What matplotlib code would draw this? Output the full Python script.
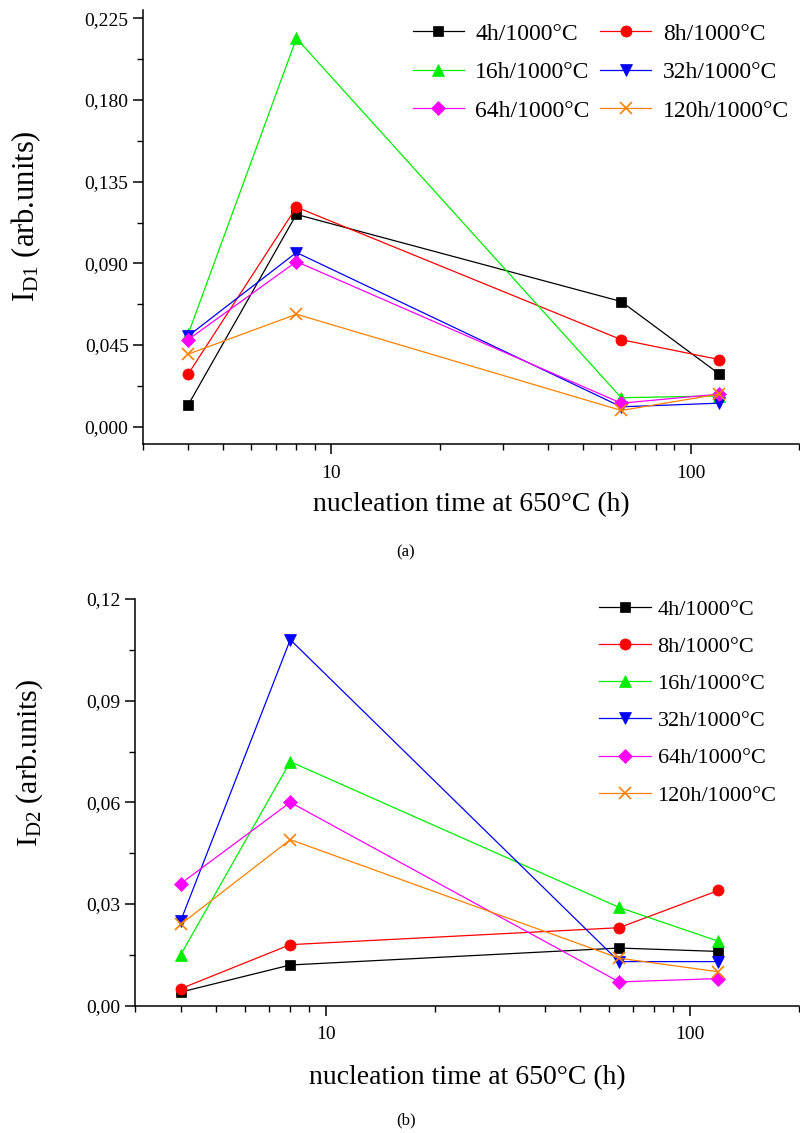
import numpy as np
import matplotlib
matplotlib.use("Agg")
import matplotlib.pyplot as plt
from matplotlib.ticker import FixedLocator, FuncFormatter, LogLocator, NullFormatter

plt.rcParams['font.family'] = ['Liberation Serif', 'DejaVu Serif']
plt.rcParams['mathtext.fontset'] = 'stix'

# nucleation time at 650 C (h)
times = [4, 8, 64, 120]
labels = ['4h/1000°C', '8h/1000°C', '16h/1000°C', '32h/1000°C', '64h/1000°C', '120h/1000°C']

# panel (a): I_D1
d1_4h = [0.012, 0.117, 0.069, 0.029]
d1_8h = [0.029, 0.121, 0.048, 0.037]
d1_16h = [0.051, 0.214, 0.016, 0.017]
d1_32h = [0.050, 0.096, 0.011, 0.013]
d1_64h = [0.048, 0.091, 0.013, 0.018]
d1_120h = [0.040, 0.062, 0.009, 0.018]

# panel (b): I_D2
d2_4h = [0.004, 0.012, 0.017, 0.016]
d2_8h = [0.005, 0.018, 0.023, 0.034]
d2_16h = [0.015, 0.072, 0.029, 0.019]
d2_32h = [0.025, 0.108, 0.013, 0.013]
d2_64h = [0.036, 0.060, 0.007, 0.008]
d2_120h = [0.024, 0.049, 0.014, 0.010]

colors = ['black', '#FF0000', '#00EE00', '#0000FF', '#FF00FF', '#FF8000']
markers = ['s', 'o', '^', 'v', 'D', 'x']
msizes = [7.5, 8, 8.5, 8.5, 7, 8]


def style_axis(ax):
    ax.spines['top'].set_visible(False)
    ax.spines['right'].set_visible(False)
    for s in ['left', 'bottom']:
        ax.spines[s].set_linewidth(1.1)
    ax.set_xscale('log')
    ax.set_xlim(3, 200)
    ax.xaxis.set_major_locator(FixedLocator([10, 100]))
    ax.xaxis.set_major_formatter(FuncFormatter(lambda v, p: '%d' % v))
    ax.xaxis.set_minor_locator(LogLocator(base=10, subs=np.arange(2, 10), numticks=20))
    ax.xaxis.set_minor_formatter(NullFormatter())
    ax.tick_params(which='major', length=7, width=1.1, labelsize=14, direction='out')
    ax.tick_params(which='minor', length=4, width=1.0, direction='out')
    ax.tick_params(axis='x', which='major', pad=8)


def draw(ax, series):
    lines = []
    for i, ys in enumerate(series):
        ln, = ax.plot(times, ys, color=colors[i], marker=markers[i], markersize=msizes[i],
                      markeredgewidth=1.2 if markers[i] == 'x' else 0.5, lw=0.9,
                      label=labels[i], clip_on=False)
        lines.append(ln)
    return lines


fig = plt.figure(figsize=(8, 11.33), dpi=100)

# ---- (a)
ax1 = fig.add_axes([0.179, 0.6081, 0.820, 0.3831])
h1 = draw(ax1, [d1_4h, d1_8h, d1_16h, d1_32h, d1_64h, d1_120h])
style_axis(ax1)
ax1.set_ylim(-0.0095, 0.2296)
ax1.set_yticks(np.arange(0, 0.226, 0.045))
ax1.set_yticks(np.arange(0.0225, 0.226, 0.045), minor=True)
ax1.yaxis.set_major_formatter(FuncFormatter(lambda v, p: ('%.3f' % v).replace('.', ',')))
ax1.set_xlabel('nucleation time at 650°C (h)', fontsize=20)
ax1.set_ylabel(r'$\mathregular{I_{D1}}$ (arb.units)', fontsize=22, va='center')
ax1.xaxis.label.set_va('center')
ax1.xaxis.set_label_coords(0.5, -0.14)
ax1.yaxis.set_label_coords(-0.179, 0.525)
order = [0, 2, 4, 1, 3, 5]
ax1.legend([h1[i] for i in order], [labels[i] for i in order],
           loc='upper left', bbox_to_anchor=(0.411, 0.97), ncol=2, frameon=False,
           fontsize=17, handlelength=2.15, handletextpad=0.5, columnspacing=0.45,
           labelspacing=0.72, borderaxespad=0, borderpad=0)

# ---- (b)
ax2 = fig.add_axes([0.169, 0.1124, 0.830, 0.3589])
draw(ax2, [d2_4h, d2_8h, d2_16h, d2_32h, d2_64h, d2_120h])
style_axis(ax2)
ax2.set_ylim(0, 0.12)
ax2.set_yticks(np.arange(0, 0.121, 0.03))
ax2.set_yticks(np.arange(0.015, 0.121, 0.03), minor=True)
ax2.yaxis.set_major_formatter(FuncFormatter(lambda v, p: ('%.2f' % v).replace('.', ',')))
ax2.set_xlabel('nucleation time at 650°C (h)', fontsize=20)
ax2.set_ylabel(r'$\mathregular{I_{D2}}$ (arb.units)', fontsize=21.5, va='center')
ax2.xaxis.label.set_va('center')
ax2.xaxis.set_label_coords(0.5, -0.178)
ax2.yaxis.set_label_coords(-0.159, 0.597)
ax2.legend(loc='upper left', bbox_to_anchor=(0.698, 1.0), ncol=1, frameon=False,
           fontsize=16, handlelength=2.35, handletextpad=0.3,
           labelspacing=0.75, borderaxespad=0, borderpad=0)

fig.text(0.5075, 1 - 552 / 1133, '(a)', ha='center', va='center', fontsize=12)
fig.text(0.5075, 1 - 1120 / 1133, '(b)', ha='center', va='center', fontsize=12)

fig.savefig('out.png', dpi=100)
